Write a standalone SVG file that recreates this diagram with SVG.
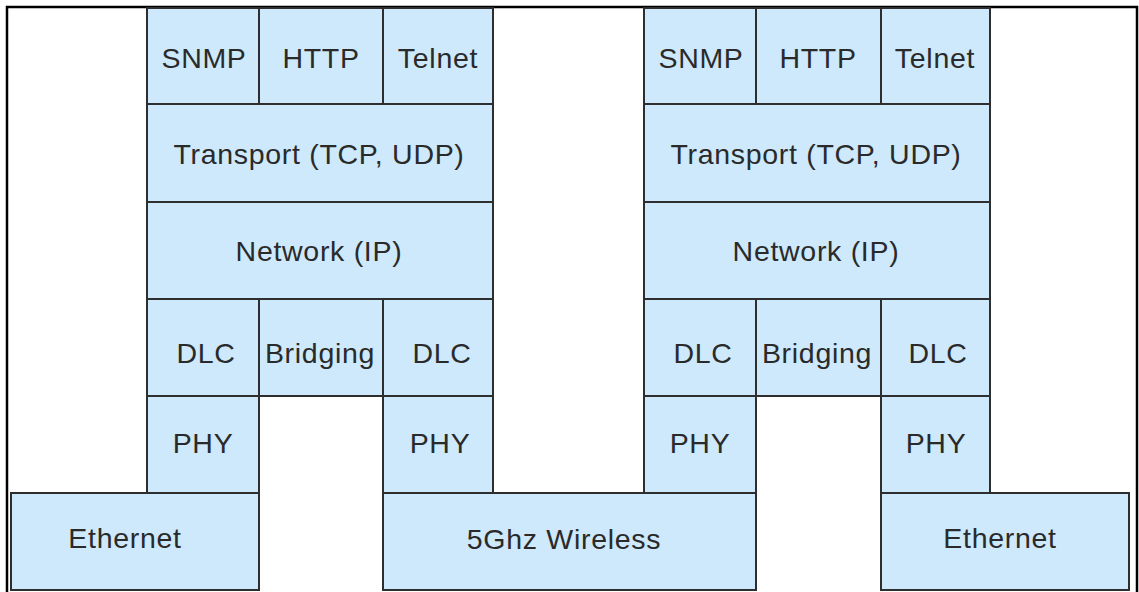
<svg xmlns="http://www.w3.org/2000/svg" width="1139" height="592" viewBox="0 0 1139 592">
<style>
.box{fill:#CDE9FB;stroke:#2E2E2E;stroke-width:2}
.t{font-family:"Liberation Sans",Arial,sans-serif;font-size:28.5px;letter-spacing:0.7px;fill:#2A2A2A;text-anchor:middle}
</style>
<rect x="0" y="0" width="1139" height="592" fill="#FFFFFF"/>
<rect x="7" y="7" width="1130" height="600" fill="none" stroke="#000000" stroke-width="2.5"/>
<g id="left-stack">
<g id="snmp1"><rect class="box" x="147" y="8" width="112" height="96"/><text class="t" x="204" y="68">SNMP</text></g>
<g id="http1"><rect class="box" x="259" y="8" width="124" height="96"/><text class="t" x="321" y="68">HTTP</text></g>
<g id="telnet1"><rect class="box" x="383" y="8" width="110" height="96"/><text class="t" x="438" y="68">Telnet</text></g>
<g id="transport1"><rect class="box" x="147" y="104" width="346" height="98"/><text class="t" x="319" y="163.5">Transport (TCP, UDP)</text></g>
<g id="network1"><rect class="box" x="147" y="202" width="346" height="97"/><text class="t" x="319" y="261">Network (IP)</text></g>
<g id="dlc1a"><rect class="box" x="147" y="299" width="112" height="97"/><text class="t" x="206" y="363">DLC</text></g>
<g id="bridging1"><rect class="box" x="259" y="299" width="124" height="97"/><text class="t" x="320" y="363">Bridging</text></g>
<g id="dlc1b"><rect class="box" x="383" y="299" width="110" height="97"/><text class="t" x="442" y="363">DLC</text></g>
<g id="phy1a"><rect class="box" x="147" y="396" width="112" height="97"/><text class="t" x="203" y="453">PHY</text></g>
<g id="phy1b"><rect class="box" x="383" y="396" width="110" height="97"/><text class="t" x="440" y="453">PHY</text></g>
</g>
<g id="right-stack">
<g id="snmp2"><rect class="box" x="644" y="8" width="112" height="96"/><text class="t" x="701" y="68">SNMP</text></g>
<g id="http2"><rect class="box" x="756" y="8" width="125" height="96"/><text class="t" x="818" y="68">HTTP</text></g>
<g id="telnet2"><rect class="box" x="881" y="8" width="109" height="96"/><text class="t" x="935" y="68">Telnet</text></g>
<g id="transport2"><rect class="box" x="644" y="104" width="346" height="98"/><text class="t" x="816" y="163.5">Transport (TCP, UDP)</text></g>
<g id="network2"><rect class="box" x="644" y="202" width="346" height="97"/><text class="t" x="816" y="261">Network (IP)</text></g>
<g id="dlc2a"><rect class="box" x="644" y="299" width="112" height="97"/><text class="t" x="703" y="363">DLC</text></g>
<g id="bridging2"><rect class="box" x="756" y="299" width="125" height="97"/><text class="t" x="817" y="363">Bridging</text></g>
<g id="dlc2b"><rect class="box" x="881" y="299" width="109" height="97"/><text class="t" x="938" y="363">DLC</text></g>
<g id="phy2a"><rect class="box" x="644" y="396" width="112" height="97"/><text class="t" x="700" y="453">PHY</text></g>
<g id="phy2b"><rect class="box" x="881" y="396" width="109" height="97"/><text class="t" x="936" y="453">PHY</text></g>
</g>
<g id="ethernet1"><rect class="box" x="11" y="493" width="248" height="97"/><text class="t" x="125" y="548">Ethernet</text></g>
<g id="wireless"><rect class="box" x="383" y="493" width="373" height="97"/><text class="t" x="564" y="549">5Ghz Wireless</text></g>
<g id="ethernet2"><rect class="box" x="881" y="493" width="248" height="97"/><text class="t" x="1000" y="548">Ethernet</text></g>
<g id="connectors"></g>
</svg>
